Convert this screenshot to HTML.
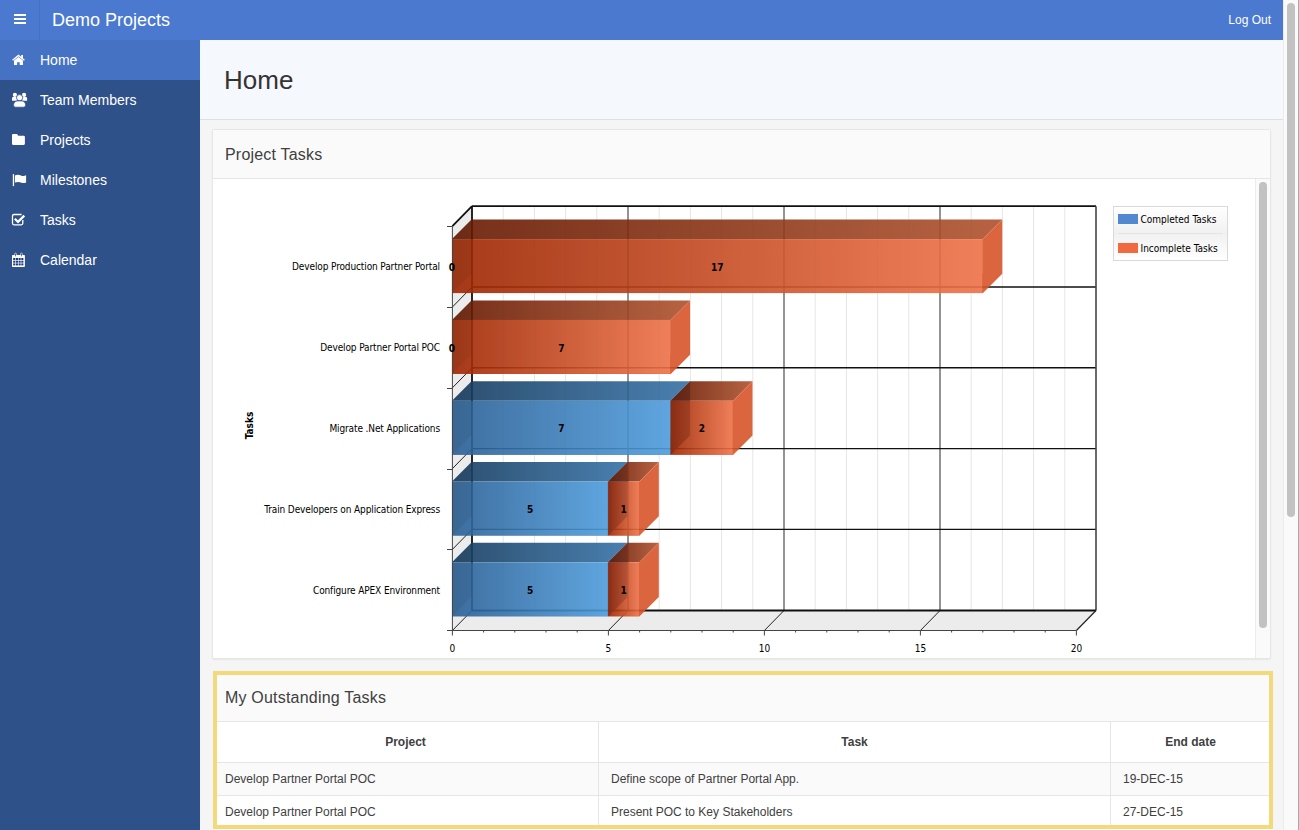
<!DOCTYPE html>
<html><head><meta charset="utf-8"><title>Home</title>
<style>
*{box-sizing:border-box;margin:0;padding:0}
html,body{width:1299px;height:830px;overflow:hidden;background:#f5f5f5;font-family:"Liberation Sans",Arial,sans-serif;color:#404040}
#hdr{position:absolute;left:0;top:0;width:1283px;height:40px;background:#4a79cf}
#burger{position:absolute;left:0;top:0;width:40px;height:40px;border-right:1px solid #4270c4}
#burger i{position:absolute;left:14px;width:12px;height:2px;background:#fff}
#brand{position:absolute;left:52px;top:9px;font-size:18px;line-height:22px;color:#fff}
#logout{position:absolute;right:12px;top:12px;font-size:12px;line-height:16px;color:#fff}
#side{position:absolute;left:0;top:40px;width:200px;height:790px;background:#2f5189}
.nav{position:absolute;left:0;width:200px;height:40px;color:#fff;font-size:14px}
.nav.act{background:#4672c4}
.nav span{position:absolute;left:40px;top:11px;line-height:18px}
.nav svg{position:absolute;left:12px}
#tbar{position:absolute;left:200px;top:40px;width:1083px;height:80px;background:#f5f8fd;border-bottom:1px solid #dcdfe4}
#tbar h1{position:absolute;left:24px;top:24px;font-size:26px;line-height:32px;font-weight:normal;color:#333}
.reg{position:absolute;background:#fff;border:1px solid #e6e6e6;border-radius:2px;box-shadow:0 1px 2px rgba(0,0,0,.06)}
.rh{position:absolute;left:0;top:0;right:0;height:49px;background:#fafafa;border-bottom:1px solid #e6e6e6}
.rh h2{position:absolute;left:12px;top:15px;font-size:16px;line-height:20px;font-weight:normal;color:#404040;letter-spacing:.2px}
#vscroll{position:absolute;left:1283px;top:0;width:16px;height:830px;background:#fafafa;border-left:1px solid #ececec}
#vscroll .th{position:absolute;left:3px;top:3px;width:8px;height:514px;border-radius:4px;background:#c2c2c2}
#vscroll .edge{position:absolute;right:0;top:0;width:1px;height:830px;background:#a8a8a8}
#cbody{position:absolute;left:0;top:49px;width:1042px;height:479px;overflow:hidden;background:#fff}
#chart text{font-family:"DejaVu Sans Condensed","DejaVu Sans","Liberation Sans",sans-serif;font-size:10px;fill:#000}
#chart .bl{font-weight:bold;text-anchor:middle}
#chart .cl{text-anchor:end;letter-spacing:-0.12px}
#chart .xl{text-anchor:middle}
#chart .at{font-weight:bold;text-anchor:middle}
#iscroll{position:absolute;left:1042px;top:49px;width:15px;height:479px;background:#fafafa;border-left:1px solid #ececec}
#iscroll .th{position:absolute;left:3px;top:3px;width:8px;height:446px;border-radius:4px;background:#c2c2c2}
#r2{position:absolute;left:213px;top:671px;width:1060px;height:159px;background:#fff;overflow:hidden}
#r2b{position:absolute;left:0;top:0;width:1060px;height:158px;border:4px solid #f2d97c}
.rh2{position:absolute;left:0;top:0;width:1060px;height:51px;background:#fafafa;border-bottom:1px solid #e6e6e6}
.rh2 h2{position:absolute;left:12px;top:17px;font-size:16px;line-height:20px;font-weight:normal;color:#404040;letter-spacing:.2px}
.row{position:absolute;left:0;width:1060px;font-size:12px;color:#404040;border-bottom:1px solid #e6e6e6;background:#fff}
.row.odd{background:#fafafa}
.row .c{position:absolute;top:0;bottom:0;line-height:32px;padding-left:12px;white-space:nowrap}
.row.hd .c{font-weight:bold;text-align:center;padding:0;line-height:40px}
.c1{left:0;width:386px;border-right:1px solid #e6e6e6}
.c2{left:386px;width:512px;border-right:1px solid #e6e6e6}
.c3{left:898px;width:159px}
#icons{position:absolute;left:0;top:0}
</style></head><body>
<div id="hdr">
  <div id="burger"><i style="top:14px"></i><i style="top:18px"></i><i style="top:22px"></i></div>
  <div id="brand">Demo Projects</div>
  <div id="logout">Log Out</div>
</div>
<div id="side">
  <div class="nav act" style="top:0"><span>Home</span></div>
  <div class="nav" style="top:40px"><span>Team Members</span></div>
  <div class="nav" style="top:80px"><span>Projects</span></div>
  <div class="nav" style="top:120px"><span>Milestones</span></div>
  <div class="nav" style="top:160px"><span>Tasks</span></div>
  <div class="nav" style="top:200px"><span>Calendar</span></div>
</div>
<svg id="icons" width="40" height="280" viewBox="0 0 40 280" fill="#fff">
<polyline points="12.6,60.3 18.4,55.4 24.4,60.3" fill="none" stroke="#fff" stroke-width="1.4"/>
<rect x="21.2" y="55" width="1.8" height="3.2"/>
<polygon points="14,60.4 18.4,56.9 23,60.4 23,65 19.7,65 19.7,62.2 17.1,62.2 17.1,65 14,65"/>
<circle cx="14.9" cy="94.9" r="2.1"/><circle cx="24.1" cy="94.9" r="2.1"/>
<path d="M12,98.3q0-1.3 1.3-1.3h2.5q1.3 0 1.3 1.3v2.4h-5.1z"/>
<path d="M22,98.3q0-1.3 1.3-1.3h2.5q1.3 0 1.3 1.3v2.4h-5.1z"/>
<circle cx="19.6" cy="97.7" r="3.1" stroke="#2f5189" stroke-width="0.8"/>
<path d="M13.6,104.6C13.6,102.2 15.3,101.1 17.4,100.9H21.8C23.9,101.1 25.5,102.2 25.5,104.6V105.4Q25.5,107.2 23.8,107.2H15.3Q13.6,107.2 13.6,105.4Z" stroke="#2f5189" stroke-width="0.8"/>
<path d="M12,135q0-1.1 1.1-1.1h3.9l1.3 1.9h5.5q1.1 0 1.1 1.1v6.9q0 1.1-1.1 1.1h-10.7q-1.1 0-1.1-1.1z"/>
<rect x="12.8" y="174.1" width="1.3" height="12"/>
<path d="M14.9,175.4C17,174.5 19,174.6 21,175.6C23,176.5 24.5,176.1 26.1,175.3V182.4C24.5,183.1 23,183.3 21,182.5C19,181.7 17,181.7 14.9,182.6Z"/>
<path d="M21.6,214.5H14q-1.5 0-1.5 1.5v7.3q0 1.5 1.5 1.5h7.3q1.5 0 1.5-1.5v-3.2" fill="none" stroke="#fff" stroke-width="1.3"/>
<polyline points="14.8,218.8 18,221.9 24.3,215.6" fill="none" stroke="#fff" stroke-width="2.2"/>
<rect x="12" y="254.9" width="12.9" height="12.2" rx="0.8"/>
<g fill="#1d3a78"><rect x="13.2" y="258" width="2.1" height="2"/><rect x="15.9" y="258" width="2.1" height="2"/><rect x="18.6" y="258" width="2.1" height="2"/><rect x="21.3" y="258" width="2.1" height="2"/>
<rect x="13.2" y="260.7" width="2.1" height="2"/><rect x="15.9" y="260.7" width="2.1" height="2"/><rect x="18.6" y="260.7" width="2.1" height="2"/><rect x="21.3" y="260.7" width="2.1" height="2"/>
<rect x="13.2" y="263.4" width="2.1" height="2"/><rect x="15.9" y="263.4" width="2.1" height="2"/><rect x="18.6" y="263.4" width="2.1" height="2"/><rect x="21.3" y="263.4" width="2.1" height="2"/>
<rect x="15.2" y="253.8" width="0.8" height="2.6"/><rect x="21.1" y="253.8" width="0.8" height="2.6"/></g>
<rect x="14.7" y="253.1" width="1.7" height="4" rx="0.8" fill="none" stroke="#fff" stroke-width="0.6"/>
<rect x="20.6" y="253.1" width="1.7" height="4" rx="0.8" fill="none" stroke="#fff" stroke-width="0.6"/>
</svg>
<div id="tbar"><h1>Home</h1></div>

<div class="reg" id="r1" style="left:212px;top:129px;width:1059px;height:530px">
  <div class="rh"><h2>Project Tasks</h2></div>
  <div id="cbody">
<svg id="chart" width="1042" height="479" viewBox="213 179 1042 479" style="position:absolute;left:0;top:0">
<defs>
<linearGradient id="gOF" x1="0" y1="0" x2="1" y2="0"><stop offset="0" stop-color="#9e2601"/><stop offset="1" stop-color="#ee7248"/></linearGradient>
<linearGradient id="gOT" x1="0" y1="0" x2="1" y2="0"><stop offset="0" stop-color="#671901"/><stop offset="1" stop-color="#b0532f"/></linearGradient>
<linearGradient id="gBF" x1="0" y1="0" x2="1" y2="0"><stop offset="0" stop-color="#2a5f95"/><stop offset="1" stop-color="#4e9cdc"/></linearGradient>
<linearGradient id="gBT" x1="0" y1="0" x2="1" y2="0"><stop offset="0" stop-color="#163c60"/><stop offset="1" stop-color="#3672a7"/></linearGradient>
<linearGradient id="gLeg" x1="0" y1="0" x2="0" y2="1"><stop offset="0" stop-color="#ffffff"/><stop offset="0.5" stop-color="#f1f1f1"/><stop offset="1" stop-color="#ffffff"/></linearGradient>
</defs>
<polygon points="452.4,226.2 472.0,206.2 472.0,610.5 452.4,630.5" fill="#ececec"/>
<polygon points="452.4,630.5 472.0,610.5 1096.0,610.5 1076.4,630.5" fill="#ececec"/>
<line x1="503.2" y1="206.2" x2="503.2" y2="610.5" stroke="#e6e6e6" stroke-width="1"/>
<line x1="534.4" y1="206.2" x2="534.4" y2="610.5" stroke="#e6e6e6" stroke-width="1"/>
<line x1="565.6" y1="206.2" x2="565.6" y2="610.5" stroke="#e6e6e6" stroke-width="1"/>
<line x1="596.8" y1="206.2" x2="596.8" y2="610.5" stroke="#e6e6e6" stroke-width="1"/>
<line x1="659.2" y1="206.2" x2="659.2" y2="610.5" stroke="#e6e6e6" stroke-width="1"/>
<line x1="690.4" y1="206.2" x2="690.4" y2="610.5" stroke="#e6e6e6" stroke-width="1"/>
<line x1="721.6" y1="206.2" x2="721.6" y2="610.5" stroke="#e6e6e6" stroke-width="1"/>
<line x1="752.8" y1="206.2" x2="752.8" y2="610.5" stroke="#e6e6e6" stroke-width="1"/>
<line x1="815.2" y1="206.2" x2="815.2" y2="610.5" stroke="#e6e6e6" stroke-width="1"/>
<line x1="846.4" y1="206.2" x2="846.4" y2="610.5" stroke="#e6e6e6" stroke-width="1"/>
<line x1="877.5999999999999" y1="206.2" x2="877.5999999999999" y2="610.5" stroke="#e6e6e6" stroke-width="1"/>
<line x1="908.8" y1="206.2" x2="908.8" y2="610.5" stroke="#e6e6e6" stroke-width="1"/>
<line x1="971.2" y1="206.2" x2="971.2" y2="610.5" stroke="#e6e6e6" stroke-width="1"/>
<line x1="1002.4" y1="206.2" x2="1002.4" y2="610.5" stroke="#e6e6e6" stroke-width="1"/>
<line x1="1033.6" y1="206.2" x2="1033.6" y2="610.5" stroke="#e6e6e6" stroke-width="1"/>
<line x1="1064.8" y1="206.2" x2="1064.8" y2="610.5" stroke="#e6e6e6" stroke-width="1"/>
<line x1="628.0" y1="206.2" x2="628.0" y2="610.5" stroke="#5a5a5a" stroke-width="1.3"/>
<line x1="784.0" y1="206.2" x2="784.0" y2="610.5" stroke="#5a5a5a" stroke-width="1.3"/>
<line x1="940.0" y1="206.2" x2="940.0" y2="610.5" stroke="#5a5a5a" stroke-width="1.3"/>
<line x1="472.0" y1="287.0" x2="1096.0" y2="287.0" stroke="#111" stroke-width="1.4"/>
<line x1="452.4" y1="307.0" x2="472.0" y2="287.0" stroke="#222" stroke-width="1"/>
<line x1="472.0" y1="367.79999999999995" x2="1096.0" y2="367.79999999999995" stroke="#111" stroke-width="1.4"/>
<line x1="452.4" y1="387.79999999999995" x2="472.0" y2="367.79999999999995" stroke="#222" stroke-width="1"/>
<line x1="472.0" y1="448.59999999999997" x2="1096.0" y2="448.59999999999997" stroke="#111" stroke-width="1.4"/>
<line x1="452.4" y1="468.59999999999997" x2="472.0" y2="448.59999999999997" stroke="#222" stroke-width="1"/>
<line x1="472.0" y1="529.4" x2="1096.0" y2="529.4" stroke="#111" stroke-width="1.4"/>
<line x1="452.4" y1="549.4" x2="472.0" y2="529.4" stroke="#222" stroke-width="1"/>
<line x1="452.4" y1="630.5" x2="472.0" y2="610.5" stroke="#222" stroke-width="1"/>
<line x1="608.4" y1="630.5" x2="628.0" y2="610.5" stroke="#222" stroke-width="1"/>
<line x1="764.4" y1="630.5" x2="784.0" y2="610.5" stroke="#222" stroke-width="1"/>
<line x1="920.4" y1="630.5" x2="940.0" y2="610.5" stroke="#222" stroke-width="1"/>
<line x1="472.0" y1="206.2" x2="1096.0" y2="206.2" stroke="#111" stroke-width="1.8"/>
<line x1="472.0" y1="206.2" x2="472.0" y2="610.5" stroke="#111" stroke-width="1.8"/>
<line x1="1096.0" y1="206.2" x2="1096.0" y2="610.5" stroke="#444" stroke-width="1.6"/>
<line x1="472.0" y1="610.5" x2="1096.0" y2="610.5" stroke="#111" stroke-width="1.8"/>
<line x1="452.4" y1="226.2" x2="472.0" y2="206.2" stroke="#111" stroke-width="1.8"/>
<line x1="1076.4" y1="630.5" x2="1096.0" y2="610.5" stroke="#222" stroke-width="1.2"/>
<g opacity="0.9"><polygon points="452.0,293.1 471.5,273.6 1002.24,273.6 982.74,293.1" fill="#b8401a"/><polygon points="452.0,239.1 471.5,219.6 1002.24,219.6 982.74,239.1" fill="url(#gOT)"/><rect x="452.0" y="239.1" width="530.74" height="54.00000000000003" fill="url(#gOF)"/><polygon points="982.34,239.1 982.74,239.1 1002.24,219.6 1002.24,273.6 982.74,293.1 982.34,293.1" fill="#d8552b"/><polygon points="452.0,239.1 471.5,219.6 471.5,273.6 452.0,293.1" fill="#000" fill-opacity="0.07"/></g>
<g opacity="0.9"><polygon points="452.0,373.9 471.5,354.4 690.04,354.4 670.54,373.9" fill="#b8401a"/><polygon points="452.0,319.9 471.5,300.4 690.04,300.4 670.54,319.9" fill="url(#gOT)"/><rect x="452.0" y="319.9" width="218.53999999999996" height="54.0" fill="url(#gOF)"/><polygon points="670.14,319.9 670.54,319.9 690.04,300.4 690.04,354.4 670.54,373.9 670.14,373.9" fill="#d8552b"/><polygon points="452.0,319.9 471.5,300.4 471.5,354.4 452.0,373.9" fill="#000" fill-opacity="0.07"/></g>
<g opacity="0.9"><polygon points="452.0,454.69999999999993 471.5,435.19999999999993 690.04,435.19999999999993 670.54,454.69999999999993" fill="#2f6090"/><polygon points="452.0,400.69999999999993 471.5,381.19999999999993 690.04,381.19999999999993 670.54,400.69999999999993" fill="url(#gBT)"/><rect x="452.0" y="400.69999999999993" width="218.53999999999996" height="54.0" fill="url(#gBF)"/><polygon points="670.14,400.69999999999993 670.54,400.69999999999993 690.04,381.19999999999993 690.04,435.19999999999993 670.54,454.69999999999993 670.14,454.69999999999993" fill="#3d7ab5"/><polygon points="452.0,400.69999999999993 471.5,381.19999999999993 471.5,435.19999999999993 452.0,454.69999999999993" fill="#000" fill-opacity="0.07"/></g>
<g opacity="0.9"><polygon points="670.54,454.69999999999993 690.04,435.19999999999993 752.48,435.19999999999993 732.98,454.69999999999993" fill="#b8401a"/><polygon points="670.54,400.69999999999993 690.04,381.19999999999993 752.48,381.19999999999993 732.98,400.69999999999993" fill="url(#gOT)"/><rect x="670.54" y="400.69999999999993" width="62.440000000000055" height="54.0" fill="url(#gOF)"/><polygon points="732.58,400.69999999999993 732.98,400.69999999999993 752.48,381.19999999999993 752.48,435.19999999999993 732.98,454.69999999999993 732.58,454.69999999999993" fill="#d8552b"/><polygon points="670.54,400.69999999999993 690.04,381.19999999999993 690.04,435.19999999999993 670.54,454.69999999999993" fill="#000" fill-opacity="0.07"/></g>
<g opacity="0.9"><polygon points="452.0,535.5 471.5,516.0 627.6,516.0 608.1,535.5" fill="#2f6090"/><polygon points="452.0,481.49999999999994 471.5,461.99999999999994 627.6,461.99999999999994 608.1,481.49999999999994" fill="url(#gBT)"/><rect x="452.0" y="481.49999999999994" width="156.10000000000002" height="54.00000000000006" fill="url(#gBF)"/><polygon points="607.7,481.49999999999994 608.1,481.49999999999994 627.6,461.99999999999994 627.6,516.0 608.1,535.5 607.7,535.5" fill="#3d7ab5"/><polygon points="452.0,481.49999999999994 471.5,461.99999999999994 471.5,516.0 452.0,535.5" fill="#000" fill-opacity="0.07"/></g>
<g opacity="0.9"><polygon points="608.1,535.5 627.6,516.0 658.8199999999999,516.0 639.3199999999999,535.5" fill="#b8401a"/><polygon points="608.1,481.49999999999994 627.6,461.99999999999994 658.8199999999999,461.99999999999994 639.3199999999999,481.49999999999994" fill="url(#gOT)"/><rect x="608.1" y="481.49999999999994" width="31.219999999999914" height="54.00000000000006" fill="url(#gOF)"/><polygon points="638.92,481.49999999999994 639.3199999999999,481.49999999999994 658.8199999999999,461.99999999999994 658.8199999999999,516.0 639.3199999999999,535.5 638.92,535.5" fill="#d8552b"/><polygon points="608.1,481.49999999999994 627.6,461.99999999999994 627.6,516.0 608.1,535.5" fill="#000" fill-opacity="0.07"/></g>
<g opacity="0.9"><polygon points="452.0,616.3 471.5,596.8 627.6,596.8 608.1,616.3" fill="#2f6090"/><polygon points="452.0,562.3 471.5,542.8 627.6,542.8 608.1,562.3" fill="url(#gBT)"/><rect x="452.0" y="562.3" width="156.10000000000002" height="54.0" fill="url(#gBF)"/><polygon points="607.7,562.3 608.1,562.3 627.6,542.8 627.6,596.8 608.1,616.3 607.7,616.3" fill="#3d7ab5"/><polygon points="452.0,562.3 471.5,542.8 471.5,596.8 452.0,616.3" fill="#000" fill-opacity="0.07"/></g>
<g opacity="0.9"><polygon points="608.1,616.3 627.6,596.8 658.8199999999999,596.8 639.3199999999999,616.3" fill="#b8401a"/><polygon points="608.1,562.3 627.6,542.8 658.8199999999999,542.8 639.3199999999999,562.3" fill="url(#gOT)"/><rect x="608.1" y="562.3" width="31.219999999999914" height="54.0" fill="url(#gOF)"/><polygon points="638.92,562.3 639.3199999999999,562.3 658.8199999999999,542.8 658.8199999999999,596.8 639.3199999999999,616.3 638.92,616.3" fill="#d8552b"/><polygon points="608.1,562.3 627.6,542.8 627.6,596.8 608.1,616.3" fill="#000" fill-opacity="0.07"/></g>
<line x1="452.4" y1="226.2" x2="452.4" y2="630.5" stroke="#444" stroke-width="1"/>
<line x1="452.4" y1="630.5" x2="1076.4" y2="630.5" stroke="#444" stroke-width="1"/>
<line x1="447" y1="226.5" x2="452.4" y2="226.5" stroke="#444" stroke-width="1"/>
<line x1="447" y1="307.5" x2="452.4" y2="307.5" stroke="#444" stroke-width="1"/>
<line x1="447" y1="388.5" x2="452.4" y2="388.5" stroke="#444" stroke-width="1"/>
<line x1="447" y1="469.5" x2="452.4" y2="469.5" stroke="#444" stroke-width="1"/>
<line x1="447" y1="549.5" x2="452.4" y2="549.5" stroke="#444" stroke-width="1"/>
<line x1="447" y1="630.5" x2="452.4" y2="630.5" stroke="#444" stroke-width="1"/>
<line x1="452.4" y1="630.5" x2="452.4" y2="635.5" stroke="#444" stroke-width="1"/>
<line x1="483.59999999999997" y1="630.5" x2="483.59999999999997" y2="632.5" stroke="#444" stroke-width="1"/>
<line x1="514.8" y1="630.5" x2="514.8" y2="632.5" stroke="#444" stroke-width="1"/>
<line x1="546.0" y1="630.5" x2="546.0" y2="632.5" stroke="#444" stroke-width="1"/>
<line x1="577.1999999999999" y1="630.5" x2="577.1999999999999" y2="632.5" stroke="#444" stroke-width="1"/>
<line x1="608.4" y1="630.5" x2="608.4" y2="635.5" stroke="#444" stroke-width="1"/>
<line x1="639.5999999999999" y1="630.5" x2="639.5999999999999" y2="632.5" stroke="#444" stroke-width="1"/>
<line x1="670.8" y1="630.5" x2="670.8" y2="632.5" stroke="#444" stroke-width="1"/>
<line x1="702.0" y1="630.5" x2="702.0" y2="632.5" stroke="#444" stroke-width="1"/>
<line x1="733.2" y1="630.5" x2="733.2" y2="632.5" stroke="#444" stroke-width="1"/>
<line x1="764.4" y1="630.5" x2="764.4" y2="635.5" stroke="#444" stroke-width="1"/>
<line x1="795.5999999999999" y1="630.5" x2="795.5999999999999" y2="632.5" stroke="#444" stroke-width="1"/>
<line x1="826.8" y1="630.5" x2="826.8" y2="632.5" stroke="#444" stroke-width="1"/>
<line x1="858.0" y1="630.5" x2="858.0" y2="632.5" stroke="#444" stroke-width="1"/>
<line x1="889.2" y1="630.5" x2="889.2" y2="632.5" stroke="#444" stroke-width="1"/>
<line x1="920.4" y1="630.5" x2="920.4" y2="635.5" stroke="#444" stroke-width="1"/>
<line x1="951.5999999999999" y1="630.5" x2="951.5999999999999" y2="632.5" stroke="#444" stroke-width="1"/>
<line x1="982.8" y1="630.5" x2="982.8" y2="632.5" stroke="#444" stroke-width="1"/>
<line x1="1014.0" y1="630.5" x2="1014.0" y2="632.5" stroke="#444" stroke-width="1"/>
<line x1="1045.1999999999998" y1="630.5" x2="1045.1999999999998" y2="632.5" stroke="#444" stroke-width="1"/>
<line x1="1076.4" y1="630.5" x2="1076.4" y2="635.5" stroke="#444" stroke-width="1"/>
<text x="452.0" y="270.6" class="bl">0</text>
<text x="717.37" y="270.6" class="bl">17</text>
<text x="440" y="270.0" class="cl">Develop Production Partner Portal</text>
<text x="452.0" y="351.5" class="bl">0</text>
<text x="561.27" y="351.5" class="bl">7</text>
<text x="440" y="350.9" class="cl">Develop Partner Portal POC</text>
<text x="561.27" y="432.40000000000003" class="bl">7</text>
<text x="701.76" y="432.40000000000003" class="bl">2</text>
<text x="440" y="431.8" class="cl">Migrate .Net Applications</text>
<text x="530.05" y="513.3000000000001" class="bl">5</text>
<text x="623.71" y="513.3000000000001" class="bl">1</text>
<text x="440" y="512.7" class="cl">Train Developers on Application Express</text>
<text x="530.05" y="594.2" class="bl">5</text>
<text x="623.71" y="594.2" class="bl">1</text>
<text x="440" y="593.6" class="cl">Configure APEX Environment</text>
<text x="452.4" y="651.8" class="xl">0</text>
<text x="608.4" y="651.8" class="xl">5</text>
<text x="764.4" y="651.8" class="xl">10</text>
<text x="920.4" y="651.8" class="xl">15</text>
<text x="1076.4" y="651.8" class="xl">20</text>
<text transform="translate(252.6,425.5) rotate(-90)" class="at">Tasks</text>
<rect x="1113.5" y="206.5" width="114" height="54" fill="url(#gLeg)" stroke="#d9d9d9" stroke-width="1"/>
<line x1="1118" y1="233.5" x2="1223" y2="233.5" stroke="#e4e4e4" stroke-width="1"/>
<rect x="1118" y="214" width="20" height="10" fill="#5188cf"/>
<rect x="1118" y="243" width="20" height="10" fill="#ef6a3f"/>
<text x="1140.5" y="222.8" class="lg">Completed Tasks</text>
<text x="1140.5" y="251.8" class="lg">Incomplete Tasks</text>
</svg>
  </div>
  <div id="iscroll"><div class="th"></div></div>
</div>

<div id="r2">
  <div class="rh2"><h2>My Outstanding Tasks</h2></div>
  <div class="row hd" style="top:51px;height:41px"><div class="c c1">Project</div><div class="c c2">Task</div><div class="c c3">End date</div></div>
  <div class="row odd" style="top:92px;height:33px"><div class="c c1">Develop Partner Portal POC</div><div class="c c2">Define scope of Partner Portal App.</div><div class="c c3">19-DEC-15</div></div>
  <div class="row" style="top:125px;height:33px"><div class="c c1">Develop Partner Portal POC</div><div class="c c2">Present POC to Key Stakeholders</div><div class="c c3">27-DEC-15</div></div>
  <div id="r2b"></div>
</div>

<div id="vscroll"><div class="th"></div><div class="edge"></div></div>
</body></html>
